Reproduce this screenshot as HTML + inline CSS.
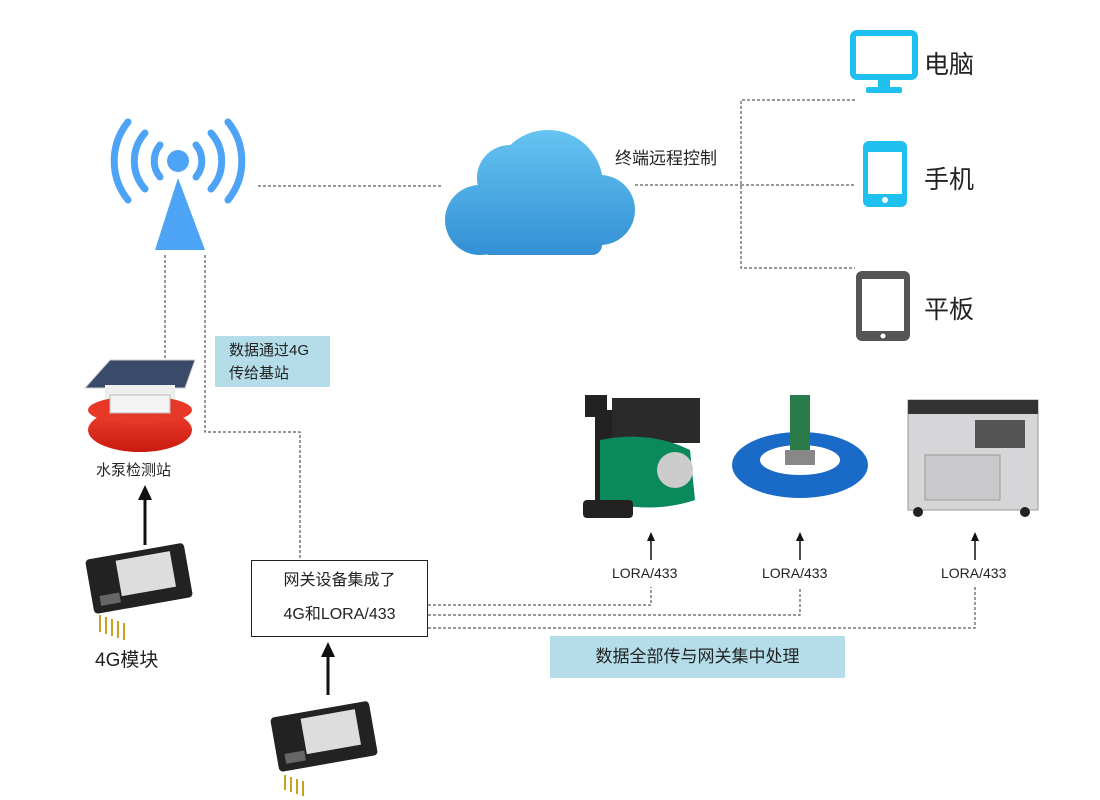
<!DOCTYPE html>
<html><head><meta charset="utf-8"><style>
body{margin:0;width:1100px;height:800px;background:#fff;position:relative;overflow:hidden;font-family:"Liberation Sans","Noto Sans CJK SC",sans-serif;color:#222}
.a{position:absolute}
.t{position:absolute;white-space:nowrap}
</style></head><body>
<svg class="a" style="left:0;top:0" width="1100" height="800">
<defs>
<linearGradient id="cl" gradientUnits="userSpaceOnUse" x1="0" y1="130" x2="0" y2="255"><stop offset="0" stop-color="#66c4f2"/><stop offset="1" stop-color="#3390d4"/></linearGradient>
<linearGradient id="rd" x1="0" y1="0" x2="0" y2="1"><stop offset="0" stop-color="#f04030"/><stop offset="1" stop-color="#c81a10"/></linearGradient>
</defs>
<g stroke="#333" stroke-width="1" stroke-dasharray="3,2" fill="none">
<path d="M258 186 H442"/>
<path d="M635 185 H741"/>
<path d="M855 100 H741 V268 H855 M741 185 H855"/>
<path d="M165 255 V362"/>
<path d="M205 255 V432 H300 V560"/>
<path d="M428 605 H651 V587"/>
<path d="M428 615 H800 V587"/>
<path d="M428 628 H975 V587"/>
</g>
<!-- antenna -->
<g fill="none" stroke="#4da3f5" stroke-width="7" stroke-linecap="round">
<path d="M160 145 A25 25 0 0 0 160 177"/><path d="M196 145 A25 25 0 0 1 196 177"/>
<path d="M145 133 A42 42 0 0 0 145 189"/><path d="M211 133 A42 42 0 0 1 211 189"/>
<path d="M128 122 A62 62 0 0 0 128 200"/><path d="M228 122 A62 62 0 0 1 228 200"/>
</g>
<circle cx="178" cy="161" r="11" fill="#4da3f5"/>
<path d="M178 178 L205 250 L155 250 Z" fill="#4da3f5"/>
<!-- cloud -->
<g fill="url(#cl)">
<circle cx="510" cy="178" r="33"/>
<circle cx="548" cy="185" r="55"/>
<circle cx="600" cy="210" r="35"/>
<circle cx="480" cy="220" r="35"/>
<rect x="480" y="200" width="122" height="55" rx="10"/>
</g>
<!-- monitor -->
<rect x="853" y="33" width="62" height="44" rx="4" fill="none" stroke="#1ec0f0" stroke-width="6"/>
<rect x="878" y="78" width="12" height="10" fill="#1ec0f0"/><rect x="866" y="87" width="36" height="6" rx="2" fill="#1ec0f0"/>
<!-- phone -->
<rect x="863" y="141" width="44" height="66" rx="6" fill="#1ec0f0"/><rect x="868" y="152" width="34" height="42" fill="#fff"/><circle cx="885" cy="200" r="3" fill="#fff"/>
<!-- tablet -->
<rect x="856" y="271" width="54" height="70" rx="6" fill="#555"/><rect x="862" y="279" width="42" height="52" fill="#fff"/><circle cx="883" cy="336" r="2.5" fill="#fff"/>
<!-- station -->
<path d="M85 388 L110 360 L195 360 L185 388 Z" fill="#3a4a6a" stroke="#ccc"/>
<rect x="105" y="385" width="70" height="25" fill="#eee"/>
<ellipse cx="140" cy="430" rx="52" ry="22" fill="url(#rd)"/>
<ellipse cx="140" cy="410" rx="52" ry="14" fill="#e83828"/>
<rect x="110" y="395" width="60" height="18" fill="#f4f4f4" stroke="#bbb"/>
<!-- arrows -->
<g stroke="#111" stroke-width="3"><path d="M145 545 V495"/><path d="M328 695 V652"/></g>
<path d="M145 485 L138 500 L152 500 Z M328 642 L321 657 L335 657 Z" fill="#111"/>
<g stroke="#111" stroke-width="1.5"><path d="M651 560 V538"/><path d="M800 560 V538"/><path d="M975 560 V538"/></g>
<path d="M651 532 L647 541 L655 541 Z M800 532 L796 541 L804 541 Z M975 532 L971 541 L979 541 Z" fill="#111"/>
<!-- modules -->
<g transform="translate(85,560) rotate(-10)"><rect width="100" height="55" rx="4" fill="#222"/><rect x="30" y="6" width="55" height="36" fill="#ddd"/><rect x="8" y="38" width="20" height="10" fill="#666"/></g>
<g stroke="#c9a020" stroke-width="2"><path d="M100 615 V632 M106 617 V634 M112 619 V636 M118 621 V638 M124 623 V640"/></g>
<g transform="translate(270,718) rotate(-10)"><rect width="100" height="55" rx="4" fill="#222"/><rect x="30" y="6" width="55" height="36" fill="#ddd"/><rect x="8" y="38" width="20" height="10" fill="#666"/></g>
<g stroke="#c9a020" stroke-width="2"><path d="M285 775 V790 M291 777 V792 M297 779 V794 M303 781 V796"/></g>
<!-- pump -->
<rect x="585" y="395" width="22" height="22" fill="#222"/>
<rect x="595" y="410" width="40" height="100" rx="8" fill="#222"/>
<rect x="612" y="398" width="88" height="45" fill="#2a2a2a"/>
<path d="M600 440 Q650 430 690 450 L695 500 Q650 515 600 500 Z" fill="#0a8a5a"/>
<circle cx="675" cy="470" r="18" fill="#ccc"/>
<rect x="583" y="500" width="50" height="18" rx="4" fill="#222"/>
<!-- aerator -->
<ellipse cx="800" cy="465" rx="68" ry="33" fill="#1a6ac8"/>
<ellipse cx="800" cy="460" rx="40" ry="15" fill="#fff"/>
<rect x="790" y="395" width="20" height="55" fill="#2a7a4a"/>
<rect x="785" y="450" width="30" height="15" fill="#888"/>
<!-- generator -->
<rect x="908" y="400" width="130" height="110" fill="#d6d6d8" stroke="#999"/>
<rect x="908" y="400" width="130" height="14" fill="#333"/>
<rect x="925" y="455" width="75" height="45" fill="#c9c9cb" stroke="#999"/>
<rect x="975" y="420" width="50" height="28" fill="#555"/>
<circle cx="918" cy="512" r="5" fill="#222"/><circle cx="1025" cy="512" r="5" fill="#222"/>
</svg>
<div class="t" style="left:615px;top:144px;font-size:17px">终端远程控制</div>
<div class="t" style="left:924px;top:45px;font-size:25px">电脑</div>
<div class="t" style="left:924px;top:160px;font-size:25px">手机</div>
<div class="t" style="left:924px;top:290px;font-size:25px">平板</div>
<div class="a" style="left:215px;top:336px;width:115px;height:51px;background:#b4dce9;font-size:15px;line-height:23px;padding:3px 0 0 14px;box-sizing:border-box">数据通过4G<br>传给基站</div>
<div class="t" style="left:96px;top:459px;font-size:15px">水泵检测站</div>
<div class="t" style="left:95px;top:645px;font-size:19px">4G模块</div>
<div class="a" style="left:251px;top:560px;width:177px;height:77px;border:1px solid #222;box-sizing:border-box;font-size:16px;text-align:center;line-height:34px;padding-top:3px">网关设备集成了<br>4G和LORA/433</div>
<div class="t" style="left:612px;top:565px;font-size:14px">LORA/433</div>
<div class="t" style="left:762px;top:565px;font-size:14px">LORA/433</div>
<div class="t" style="left:941px;top:565px;font-size:14px">LORA/433</div>
<div class="a" style="left:550px;top:636px;width:295px;height:42px;background:#b4dce9;font-size:17px;line-height:42px;text-align:center">数据全部传与网关集中处理</div>
</body></html>
